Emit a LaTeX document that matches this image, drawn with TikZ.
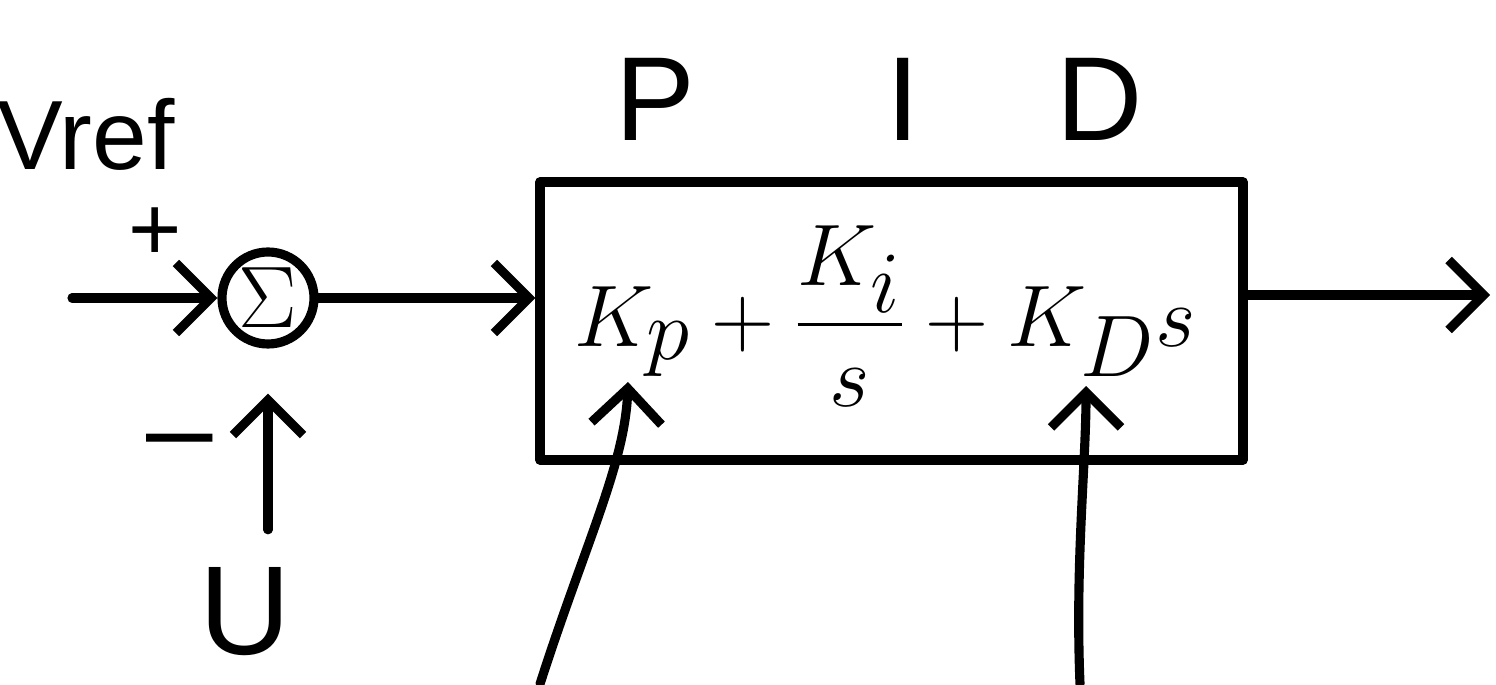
\documentclass[tikz,border=0pt]{standalone}
\usepackage{amsmath}
\usepackage{fontspec}
\setsansfont{Liberation Sans}
\usepackage{tikz}
\usetikzlibrary{arrows.meta, positioning, calc}
\definecolor{cink}{HTML}{000000}

\begin{document}
\begin{tikzpicture}[
    line width=2.6pt, cink, line cap=round, line join=round,
    sig/.style={-{Straight Barb[length=3.5mm, width=7mm, line width=2.6pt]}},
    lbl/.style={font=\sffamily\fontsize{34}{40}\selectfont, inner sep=1pt},
    sumnode/.style={circle, draw, minimum size=9.2cm/10, inner sep=0pt, font=\fontsize{34}{40}\selectfont},
    blockbox/.style={draw, minimum width=7.03cm, minimum height=2.78cm, inner sep=0pt}
  ]
  \useasboundingbox (0,0) rectangle (14.96,6.84);
  % summing junction and its inputs
  \node[sumnode] (sum) at (2.68,3.86) {$\Sigma$};
  \node[lbl, font=\sffamily\fontsize{28}{32}\selectfont] (vref) at (0.86,5.5) {Vref};
  \node[lbl, font=\sffamily\fontsize{26}{30}\selectfont] (plus) at (1.55,4.5) {+};
  \node[lbl, font=\sffamily\fontsize{34}{40}\selectfont] (minus) at (1.80,2.33) {–};
  \node[lbl, font=\sffamily\fontsize{36}{42}\selectfont] (u) at (2.45,0.72) {U};
  \coordinate (in) at (0.72,3.86);
  \draw[sig] (in) -- (sum.west);
  \draw[sig, shorten <=3mm, shorten >=4.5mm] (u.north -| sum.south) -- (sum.south);
  % PID block
  \node[blockbox] (pid) at (8.915,3.63) {};
  \node[font=\fontsize{34}{40}\selectfont] (law) at (8.85,3.68)
    {$\displaystyle K_p + \frac{K_i}{s} + K_D s$};
  \node[lbl] (lp) at (6.55,5.85) {P};
  \node[lbl] (li) at (9.03,5.85) {I};
  \node[lbl] (ld) at (11.00,5.85) {D};
  \draw[sig] (sum.east) -- (sum.east -| pid.west);
  \coordinate (out) at (14.90,3.89);
  \draw[sig] (pid.east |- out) -- (out);
  % gain tuning arrows
  \coordinate (kpfoot) at (5.40,0);
  \coordinate (kptip) at (6.28,3.02);
  \coordinate (kdfoot) at (10.80,0);
  \coordinate (kdtip) at (10.86,2.98);
  \draw[sig] (kpfoot) .. controls (5.85,1.4) and (6.25,2.2) .. (kptip);
  \draw[sig] (kdfoot) .. controls (10.75,1.2) and (10.86,2.2) .. (kdtip);
\end{tikzpicture}
\end{document}
